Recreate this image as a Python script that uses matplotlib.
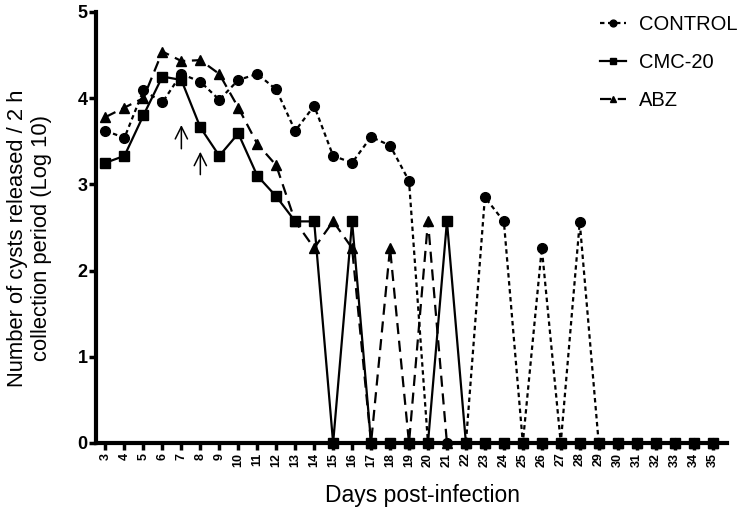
import matplotlib.pyplot as plt

plt.rcParams['font.family'] = ['Liberation Sans', 'DejaVu Sans']

days = list(range(3, 36))

control = [3.62, 3.54, 4.09, 3.95, 4.28, 4.19, 3.98, 4.21, 4.28, 4.10, 3.62, 3.91,
           3.33, 3.25, 3.55, 3.45, 3.04, 0, 0, 0, 2.85, 2.57, 0, 2.26, 0, 2.56, 0,
           0, 0, 0, 0, 0, 0]
cmc20 = [3.25, 3.33, 3.80, 4.25, 4.21, 3.66, 3.33, 3.59, 3.10, 2.86, 2.57, 2.57,
         0, 2.57, 0, 0, 0, 0, 2.57, 0, 0, 0, 0, 0, 0, 0, 0,
         0, 0, 0, 0, 0, 0]
abz = [3.78, 3.89, 4.00, 4.54, 4.43, 4.44, 4.28, 3.89, 3.47, 3.22, 2.57, 2.26,
       2.57, 2.26, 0, 2.26, 0, 2.57, 0, 0, 0, 0, 0, 0, 0, 0, 0,
       0, 0, 0, 0, 0, 0]

# treatment arrows: (day, tail, tip)
arrows = [(7, 3.38, 3.72), (8, 3.08, 3.41)]

fig = plt.figure(figsize=(7.5, 5.16), dpi=100)
ax = fig.add_axes([0.128, 0.1415, 0.841, 0.8355])

ax.plot(days, control, color='black', linestyle=(0, (2, 1.6)), linewidth=1.6,
        marker='o', markersize=7, label='CONTROL', clip_on=False, zorder=3)
ax.plot(days, cmc20, color='black', linestyle='-', linewidth=1.6,
        marker='s', markersize=7, label='CMC-20', clip_on=False, zorder=3)
ax.plot(days, abz, color='black', linestyle=(0, (5, 3)), linewidth=1.6,
        marker='^', markersize=7, label='ABZ', clip_on=False, zorder=3)

for d, tail, tip in arrows:
    ax.annotate('', xy=(d, tip), xytext=(d, tail),
                arrowprops=dict(arrowstyle='->', color='black', lw=1.1,
                                mutation_scale=22))

ax.set_xlim(2.5, 35.75)
ax.set_ylim(0, 5)
ax.set_xticks(days)
ax.set_xticklabels([str(d) for d in days], rotation=90, fontsize=9,
                   fontweight='bold')
ax.set_yticks([0, 1, 2, 3, 4, 5])
ax.set_yticklabels(['0', '1', '2', '3', '4', '5'], fontsize=13, fontweight='bold')
ax.tick_params(axis='both', direction='out', length=5, width=2.5, pad=2)
ax.tick_params(axis='y', pad=1)

for side in ['top', 'right']:
    ax.spines[side].set_visible(False)
for side in ['left', 'bottom']:
    ax.spines[side].set_linewidth(3)

ax.set_xlabel('Days post-infection', fontsize=16.5)
ax.set_ylabel('Number of cysts released / 2 h\ncollection period (Log 10)',
              fontsize=15.8)
ax.xaxis.set_label_coords(0.518, -0.095)
ax.yaxis.set_label_coords(-0.069, 0.475)

leg = ax.legend(loc='upper right', bbox_to_anchor=(1.045, 1.035), frameon=False,
                fontsize=14.5, handlelength=1.3, handletextpad=0.6,
                labelspacing=0.95, markerscale=0.7)

fig.savefig('out.png', dpi=100)
